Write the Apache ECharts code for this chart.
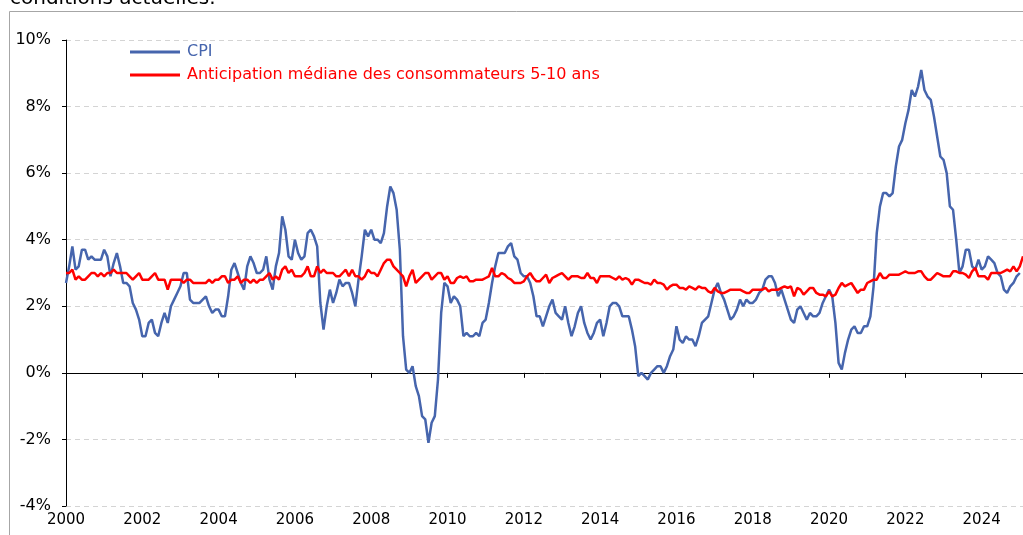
<!DOCTYPE html>
<html>
<head>
<meta charset="utf-8">
<script src="https://cdn.jsdelivr.net/npm/echarts@6/dist/echarts.min.js"></script>
<style>
html,body{margin:0;padding:0;background:#fff;}
#chart{width:1023px;height:535px;}
</style>
</head>
<body>
<div id="chart"></div>
<script>
// Monthly data starting January 2000
const startYear = 2000;
const seriesNames = ['CPI', 'Anticipation médiane des consommateurs 5-10 ans'];
const cpi = [
  2.7, 3.2, 3.8, 3.1, 3.2, 3.7, 3.7, 3.4, 3.5, 3.4, 3.4, 3.4,
  3.7, 3.5, 2.9, 3.3, 3.6, 3.2, 2.7, 2.7, 2.6, 2.1, 1.9, 1.6,
  1.1, 1.1, 1.5, 1.6, 1.2, 1.1, 1.5, 1.8, 1.5, 2.0, 2.2, 2.4,
  2.6, 3.0, 3.0, 2.2, 2.1, 2.1, 2.1, 2.2, 2.3, 2.0, 1.8, 1.9,
  1.9, 1.7, 1.7, 2.3, 3.1, 3.3, 3.0, 2.7, 2.5, 3.2, 3.5, 3.3,
  3.0, 3.0, 3.1, 3.5, 2.8, 2.5, 3.2, 3.6, 4.7, 4.3, 3.5, 3.4,
  4.0, 3.6, 3.4, 3.5, 4.2, 4.3, 4.1, 3.8, 2.1, 1.3, 2.0, 2.5,
  2.1, 2.4, 2.8, 2.6, 2.7, 2.7, 2.4, 2.0, 2.8, 3.5, 4.3, 4.1,
  4.3, 4.0, 4.0, 3.9, 4.2, 5.0, 5.6, 5.4, 4.9, 3.7, 1.1, 0.1,
  0.0, 0.2, -0.4, -0.7, -1.3, -1.4, -2.1, -1.5, -1.3, -0.2, 1.8, 2.7,
  2.6, 2.1, 2.3, 2.2, 2.0, 1.1, 1.2, 1.1, 1.1, 1.2, 1.1, 1.5,
  1.6, 2.1, 2.7, 3.2, 3.6, 3.6, 3.6, 3.8, 3.9, 3.5, 3.4, 3.0,
  2.9, 2.9, 2.7, 2.3, 1.7, 1.7, 1.4, 1.7, 2.0, 2.2, 1.8, 1.7,
  1.6, 2.0, 1.5, 1.1, 1.4, 1.8, 2.0, 1.5, 1.2, 1.0, 1.2, 1.5,
  1.6, 1.1, 1.5, 2.0, 2.1, 2.1, 2.0, 1.7, 1.7, 1.7, 1.3, 0.8,
  -0.1, 0.0, -0.1, -0.2, 0.0, 0.1, 0.2, 0.2, 0.0, 0.2, 0.5, 0.7,
  1.4, 1.0, 0.9, 1.1, 1.0, 1.0, 0.8, 1.1, 1.5, 1.6, 1.7, 2.1,
  2.5, 2.7, 2.4, 2.2, 1.9, 1.6, 1.7, 1.9, 2.2, 2.0, 2.2, 2.1,
  2.1, 2.2, 2.4, 2.5, 2.8, 2.9, 2.9, 2.7, 2.3, 2.5, 2.2, 1.9,
  1.6, 1.5, 1.9, 2.0, 1.8, 1.6, 1.8, 1.7, 1.7, 1.8, 2.1, 2.3,
  2.5, 2.3, 1.5, 0.3, 0.1, 0.6, 1.0, 1.3, 1.4, 1.2, 1.2, 1.4,
  1.4, 1.7, 2.6, 4.2, 5.0, 5.4, 5.4, 5.3, 5.4, 6.2, 6.8, 7.0,
  7.5, 7.9, 8.5, 8.3, 8.6, 9.1, 8.5, 8.3, 8.2, 7.7, 7.1, 6.5,
  6.4, 6.0, 5.0, 4.9, 4.0, 3.0, 3.2, 3.7, 3.7, 3.2, 3.1, 3.4,
  3.1, 3.2, 3.5, 3.4, 3.3, 3.0, 2.9, 2.5, 2.4, 2.6, 2.7, 2.9,
  3.0
];
const expectation = [
  3.0, 3.0, 3.1, 2.8, 2.9, 2.8, 2.8, 2.9, 3.0, 3.0, 2.9, 3.0,
  2.9, 3.0, 3.0, 3.1, 3.0, 3.0, 3.0, 3.0, 2.9, 2.8, 2.9, 3.0,
  2.8, 2.8, 2.8, 2.9, 3.0, 2.8, 2.8, 2.8, 2.5, 2.8, 2.8, 2.8,
  2.8, 2.7, 2.8, 2.8, 2.7, 2.7, 2.7, 2.7, 2.7, 2.8, 2.7, 2.8,
  2.8, 2.9, 2.9, 2.7, 2.8, 2.8, 2.9, 2.7, 2.8, 2.8, 2.7, 2.8,
  2.7, 2.8, 2.8, 2.9, 3.0, 2.8, 2.9, 2.8, 3.1, 3.2, 3.0, 3.1,
  2.9, 2.9, 2.9, 3.0, 3.2, 2.9, 2.9, 3.2, 3.0, 3.1, 3.0, 3.0,
  3.0, 2.9, 2.9, 3.0, 3.1, 2.9, 3.1, 2.9, 2.9, 2.8, 2.9, 3.1,
  3.0, 3.0, 2.9, 3.1, 3.3, 3.4, 3.4, 3.2, 3.1, 3.0, 2.9, 2.6,
  2.9, 3.1, 2.7, 2.8, 2.9, 3.0, 3.0, 2.8, 2.9, 3.0, 3.0, 2.8,
  2.9, 2.7, 2.7, 2.85, 2.9, 2.85, 2.9, 2.75, 2.75, 2.8, 2.8, 2.8,
  2.85, 2.9, 3.15, 2.9, 2.9, 3.0, 2.95, 2.85, 2.8, 2.7, 2.7, 2.7,
  2.75, 2.9, 3.0, 2.85, 2.75, 2.75, 2.85, 2.95, 2.7, 2.85, 2.9, 2.95,
  3.0, 2.9, 2.8, 2.9, 2.9, 2.9, 2.85, 2.85, 3.0, 2.85, 2.85, 2.7,
  2.9, 2.9, 2.9, 2.9, 2.85, 2.8, 2.9, 2.8, 2.85, 2.8, 2.65, 2.8,
  2.8, 2.75, 2.7, 2.7, 2.65, 2.8, 2.7, 2.7, 2.65, 2.5, 2.6, 2.65,
  2.65, 2.55, 2.55, 2.5, 2.6, 2.55, 2.5, 2.6, 2.55, 2.55, 2.45, 2.4,
  2.55, 2.45, 2.4, 2.4, 2.45, 2.5, 2.5, 2.5, 2.5, 2.45, 2.4, 2.4,
  2.5, 2.5, 2.5, 2.5, 2.55, 2.45, 2.5, 2.5, 2.5, 2.55, 2.6, 2.55,
  2.6, 2.3, 2.55, 2.5, 2.35, 2.45, 2.55, 2.55, 2.4, 2.35, 2.35, 2.3,
  2.45, 2.3, 2.35, 2.55, 2.7, 2.6, 2.65, 2.7, 2.55, 2.4, 2.5, 2.5,
  2.7, 2.75, 2.8, 2.8, 3.0, 2.85, 2.85, 2.95, 2.95, 2.95, 2.95, 3.0,
  3.05, 3.0, 3.0, 3.0, 3.05, 3.05, 2.9, 2.8, 2.8, 2.9, 3.0, 2.95,
  2.9, 2.9, 2.9, 3.05, 3.05, 3.0, 3.0, 2.95, 2.85, 3.05, 3.15, 2.9,
  2.9, 2.9, 2.8, 3.0, 3.0, 3.0, 3.0, 3.05, 3.1, 3.05, 3.2, 3.05,
  3.2, 3.5
];
const xTicks = [2000, 2002, 2004, 2006, 2008, 2010, 2012, 2014, 2016, 2018, 2020, 2022, 2024];
const yMin = -4, yMax = 10, yStep = 2;
const xMin = 2000, xMax = 2025 + 1 / 12;
const topNote = 'conditions actuelles.';

const FONT = '"DejaVu Sans", Verdana, sans-serif';
const BLUE = '#4665ad';
const RED = '#ff0000';

const toPairs = arr => arr.map((v, i) => [startYear + i / 12, v]);

const chart = echarts.init(document.getElementById('chart'), null, { renderer: 'canvas' });
chart.setOption({
  animation: false,
  backgroundColor: '#ffffff',
  textStyle: { fontFamily: FONT },
  grid: { left: 66, right: 0, top: 40, bottom: 29, containLabel: false, outerBoundsMode: 'none' },
  graphic: [
    {
      type: 'rect', silent: true, z: 0,
      shape: { x: 9.5, y: 11.5, width: 1100, height: 600 },
      style: { fill: 'none', stroke: '#a6a6a6', lineWidth: 1 }
    },
    {
      type: 'text', silent: true,
      x: 10, y: 9,
      style: { text: topNote, font: '20px ' + FONT, fill: '#000', align: 'left', verticalAlign: 'bottom' }
    }
  ],
  legend: {
    orient: 'vertical', left: 130, top: 44, padding: 0,
    itemWidth: 50, itemHeight: 3, itemGap: 7, icon: 'rect',
    textStyle: { fontSize: 16, fontFamily: FONT, lineHeight: 16, padding: [0, 0, 0, 2] },
    data: [
      { name: seriesNames[0], textStyle: { color: BLUE } },
      { name: seriesNames[1], textStyle: { color: RED } }
    ]
  },
  xAxis: [
    {
      type: 'value', min: xMin, max: xMax, interval: 2, position: 'bottom',
      axisLine: { show: true, onZero: true, lineStyle: { color: '#000', width: 1 } },
      axisTick: { show: true, length: 5, lineStyle: { color: '#000' }, customValues: xTicks },
      axisLabel: { show: false },
      splitLine: { show: false }
    },
    {
      type: 'value', min: xMin, max: xMax, interval: 2, position: 'bottom',
      axisLine: { show: false, onZero: false },
      axisTick: { show: false },
      axisLabel: {
        show: true, fontSize: 15, color: '#000', fontFamily: FONT, margin: 7,
        customValues: xTicks,
        formatter: v => (xTicks.indexOf(Math.round(v * 1000) / 1000) >= 0 ? String(v) : '')
      },
      splitLine: { show: false }
    }
  ],
  yAxis: {
    type: 'value', min: yMin, max: yMax, interval: yStep,
    axisLine: { show: true, onZero: false, lineStyle: { color: '#000', width: 1 } },
    axisTick: { show: true, length: 4, lineStyle: { color: '#000' } },
    axisLabel: { fontSize: 16, color: '#000', fontFamily: FONT, margin: 15, formatter: '{value}%' },
    splitLine: { show: true, lineStyle: { color: '#d4d4d4', type: [5, 4], width: 1 } }
  },
  series: [
    {
      name: seriesNames[0], type: 'line', xAxisIndex: 0, data: toPairs(cpi),
      showSymbol: false, symbol: 'none', z: 3,
      lineStyle: { color: BLUE, width: 2.5 }, itemStyle: { color: BLUE }
    },
    {
      name: seriesNames[1], type: 'line', xAxisIndex: 0, data: toPairs(expectation),
      showSymbol: false, symbol: 'none', z: 4,
      lineStyle: { color: RED, width: 2.5 }, itemStyle: { color: RED }
    }
  ]
});
</script>
</body>
</html>
